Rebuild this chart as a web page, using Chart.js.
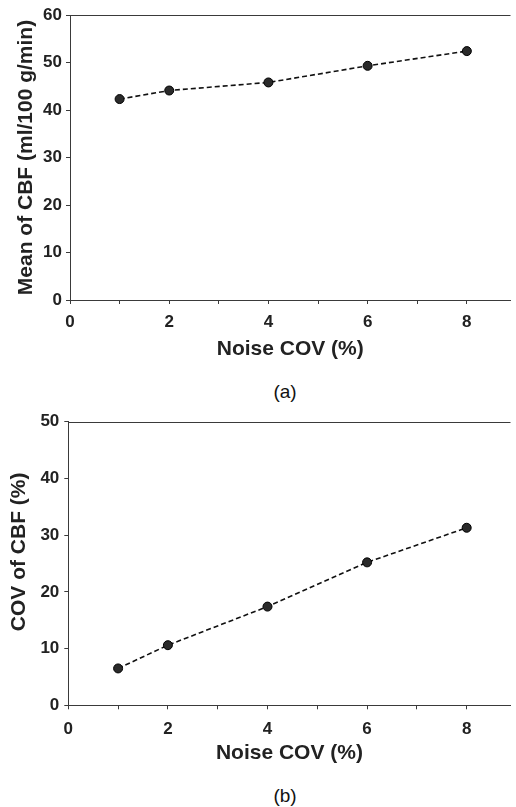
<!DOCTYPE html>
<html>
<head>
<meta charset="utf-8">
<script src="https://cdn.jsdelivr.net/npm/chart.js@4.4.0/dist/chart.umd.min.js"></script>
<style>
  body { margin: 0; background: #fff; width: 516px; height: 807px; position: relative; overflow: hidden;
         font-family: "Liberation Sans", Arial, sans-serif; }
  canvas { position: absolute; left: 0; }
  .caption { position: absolute; left: 255px; width: 60px; text-align: center; font-size: 19px; line-height: 22px; color: #111; }
</style>
</head>
<body>
<canvas id="chartMean" width="516" height="370" style="top:0px"></canvas>
<canvas id="chartCov" width="516" height="370" style="top:406px"></canvas>
<div class="caption" style="top:381px">(a)</div>
<div class="caption" style="top:785px">(b)</div>

<script>
// noise level on x, CBF statistics on y
const noiseCov = [1, 2, 4, 6, 8];
const meanCbf = [42.3, 44.1, 45.8, 49.3, 52.4];
const covCbf = [6.5, 10.6, 17.4, 25.2, 31.3];

// tick marks (odd x values get a mark but no label)
const xTicks = [0, 1, 2, 3, 4, 5, 6, 7, 8];
const xTickLabels = [0, 2, 4, 6, 8];
const meanTicks = [0, 10, 20, 30, 40, 50, 60];
const covTicks = [0, 10, 20, 30, 40, 50];

const ink = '#222';
const axisInk = '#3a3a3a';
const family = "'Liberation Sans', Arial, sans-serif";
const tickFont = { family: family, size: 17, weight: 'bold' };
const titleFont = { family: family, size: 21, weight: 'bold' };

// plain line along the top edge of the plot area
const topBorder = {
    id: 'topBorder',
    afterDraw(chart) {
        const { ctx, chartArea } = chart;
        const y = Math.round(chartArea.top) + 0.5;
        ctx.save();
        ctx.strokeStyle = axisInk;
        ctx.lineWidth = 1;
        ctx.beginPath();
        ctx.moveTo(chartArea.left, y);
        ctx.lineTo(chartArea.right, y);
        ctx.stroke();
        ctx.restore();
    }
};

function drawPanel(id, values, yTicks, yTitle, frame) {
    const ctx = document.getElementById(id).getContext('2d');
    return new Chart(ctx, {
        type: 'scatter',
        data: {
            datasets: [{
                data: noiseCov.map((x, i) => ({ x: x, y: values[i] })),
                showLine: true,
                borderColor: '#111',
                borderWidth: 1.6,
                borderDash: [5, 3],
                pointRadius: 4.5,
                pointBackgroundColor: '#2a2a2a',
                pointBorderColor: '#000',
                pointBorderWidth: 1
            }]
        },
        options: {
            responsive: false,
            animation: false,
            devicePixelRatio: 1,
            layout: { padding: { top: frame.top, right: 0, bottom: 0, left: 0 } },
            plugins: {
                legend: { display: false },
                tooltip: { enabled: false }
            },
            scales: {
                x: {
                    type: 'linear',
                    min: 0,
                    max: 8.88,
                    afterBuildTicks: s => { s.ticks = xTicks.map(v => ({ value: v })); },
                    afterFit: s => {
                        s.height = frame.xHeight;
                        s.paddingLeft = 0;
                        s.paddingRight = 0;
                    },
                    ticks: {
                        autoSkip: false,
                        maxRotation: 0,
                        padding: frame.xPad,
                        color: ink,
                        font: tickFont,
                        callback: v => xTickLabels.includes(v) ? String(v) : ''
                    },
                    grid: { drawOnChartArea: false, drawTicks: true, tickLength: 4, color: axisInk },
                    border: { color: axisInk, width: 1 },
                    title: {
                        display: true,
                        text: 'Noise COV (%)',
                        color: ink,
                        font: titleFont,
                        padding: { top: 0, bottom: frame.xTitlePad }
                    }
                },
                y: {
                    type: 'linear',
                    min: 0,
                    max: yTicks[yTicks.length - 1],
                    afterBuildTicks: s => { s.ticks = yTicks.map(v => ({ value: v })); },
                    afterFit: s => {
                        s.width = frame.yWidth;
                        s.paddingTop = 0;
                        s.paddingBottom = 0;
                    },
                    ticks: { padding: frame.yPad, color: ink, font: tickFont },
                    grid: { drawOnChartArea: false, drawTicks: true, tickLength: 4, color: axisInk },
                    border: { color: axisInk, width: 1 },
                    title: {
                        display: true,
                        text: yTitle,
                        color: ink,
                        font: titleFont,
                        padding: { top: frame.yTitlePad, bottom: 0 }
                    }
                }
            }
        },
        plugins: [topBorder]
    });
}

drawPanel('chartMean', meanCbf, meanTicks, 'Mean of CBF (ml/100 g/min)',
    { top: 15, xHeight: 70, xPad: 8, xTitlePad: 8.4, yWidth: 70, yPad: 4, yTitlePad: 13.4 });

// leading spaces lift this shorter title a little above the plot's middle
drawPanel('chartCov', covCbf, covTicks, '    COV of CBF (%)',
    { top: 15.7, xHeight: 70.7, xPad: 10, xTitlePad: 10.4, yWidth: 68.3, yPad: 5, yTitlePad: 6.9 });
</script>
</body>
</html>
